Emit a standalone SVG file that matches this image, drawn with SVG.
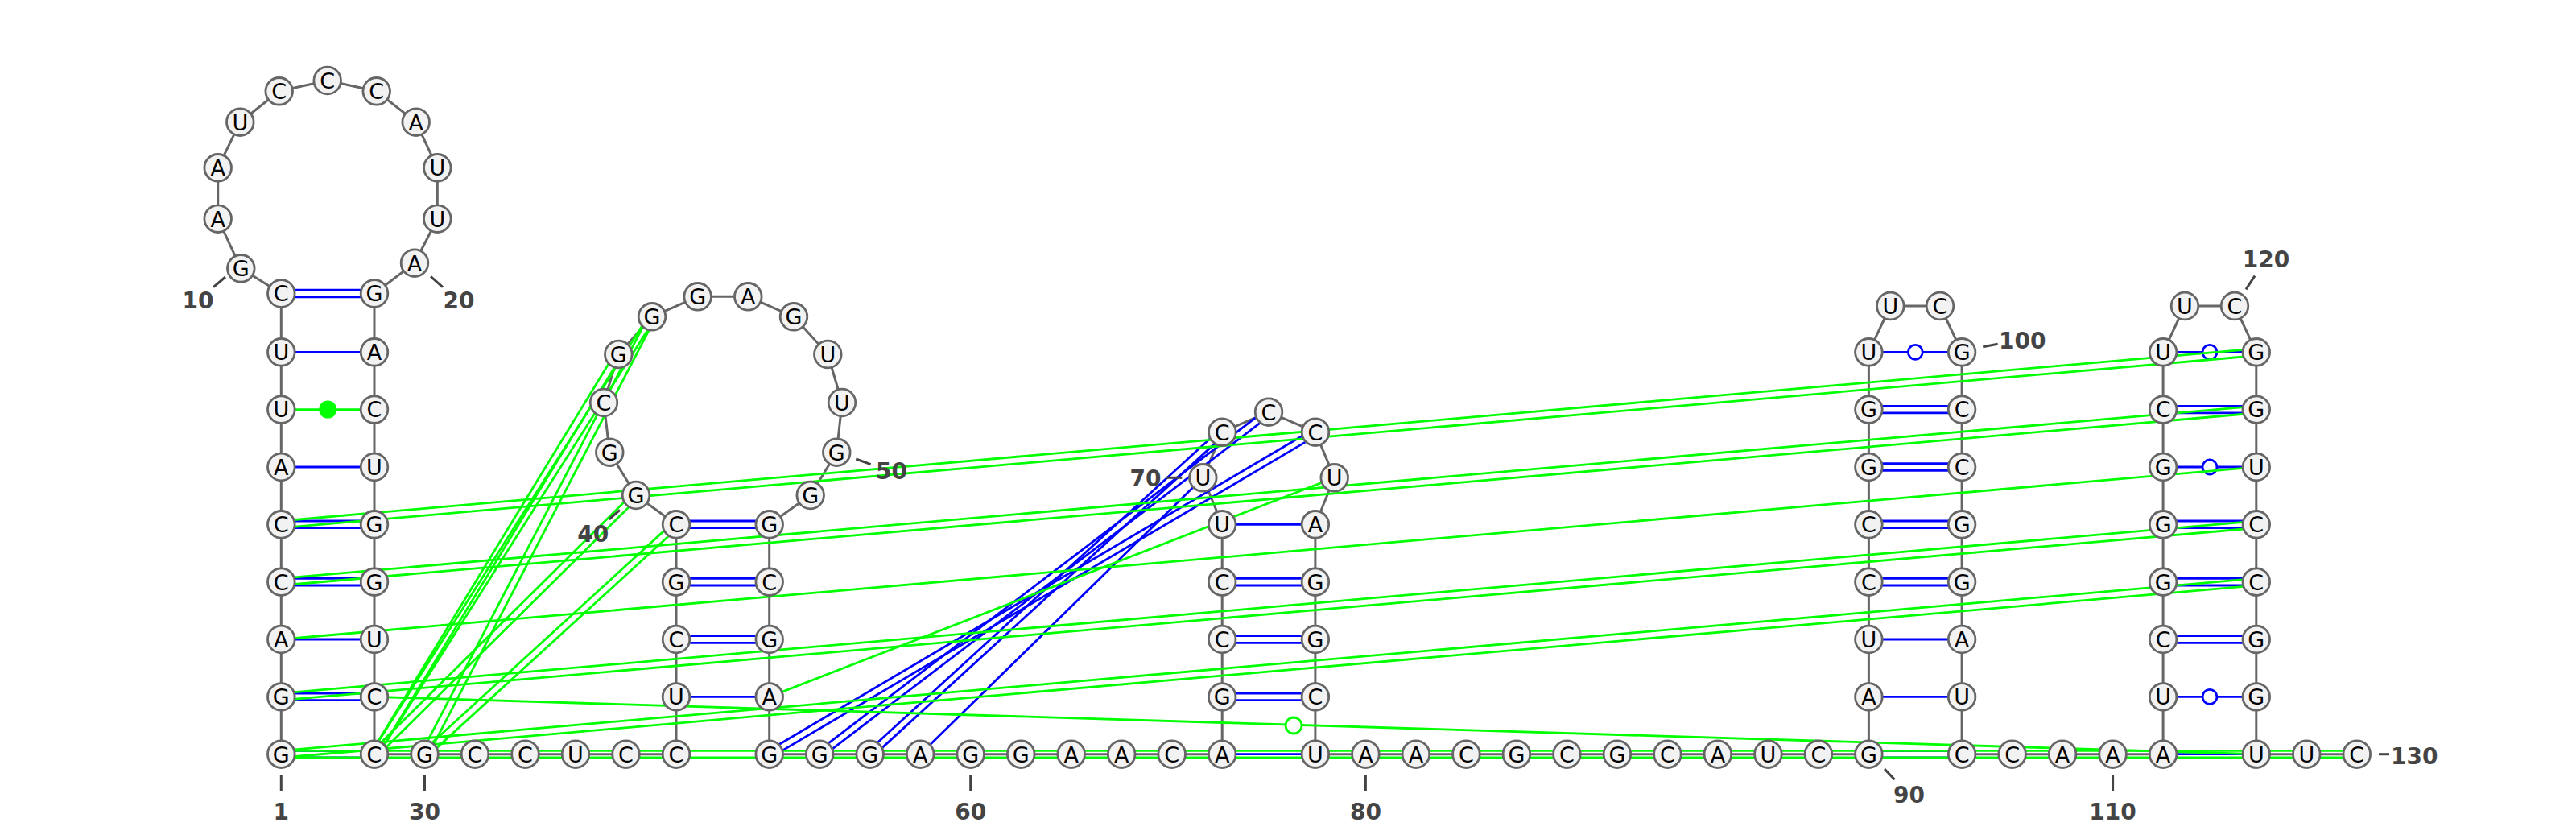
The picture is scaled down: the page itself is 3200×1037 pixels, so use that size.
<svg xmlns="http://www.w3.org/2000/svg" width="3200" height="1037" viewBox="0 0 3200 1037">
<style>
.bb{fill:none;stroke:#666;stroke-width:3;stroke-linejoin:round}
.bp line{stroke:#0000ff;stroke-width:2.8}
.gp line{stroke:#00ff00;stroke-width:2.8}
.nt circle{fill:#f2f2f2;stroke:#666;stroke-width:2.8}
.nt text{font-family:"DejaVu Sans",sans-serif;font-size:27px;text-anchor:middle;fill:#000}
.lbl text{font-family:"DejaVu Sans",sans-serif;font-weight:bold;font-size:28px;fill:#444;text-anchor:middle}
.lbl line{stroke:#444;stroke-width:3}
.wb{fill:#fff;stroke:#0000ff;stroke-width:2.8}
.gw{fill:#fff;stroke:#00ff00;stroke-width:2.8}
.gf{fill:#00ff00}
</style>
<rect width="3200" height="1037" fill="#fff"/>
<g id="connectors">
<polyline class="bb" points="349.3,936.7 349.3,865.4 349.3,794 349.3,722.7 349.3,651.3 349.3,580 349.3,508.6 349.3,437.3 349.3,364.5 299.3,333.3 270.7,271.7 270.7,208.3 298.3,151.7 346.7,113.3 406.7,100 467.7,113.3 516.7,151.7 543.3,208.3 543.3,271.7 515,326.7 465,364.5 465,437.3 465,508.6 465,580 465,651.3 465,722.7 465,794 465,865.4 465,936.7 527.5,936.7 590,936.7 652.5,936.7 715,936.7 777.5,936.7 840,936.7 840,865.4 840,794 840,722.7 840,651.3 790,615 757.3,561.7 750,500 768.3,440 810,393.3 866.7,368.3 929.3,368.3 986,393.3 1028.3,440 1046,500 1039.3,561.7 1006.7,615 955.7,651.3 955.7,722.7 955.7,794 955.7,865.4 955.7,936.7 1018.2,936.7 1080.7,936.7 1143.2,936.7 1205.7,936.7 1268.2,936.7 1330.7,936.7 1393.2,936.7 1455.7,936.7 1518.2,936.7 1518.2,865.4 1518.2,794 1518.2,722.7 1518.2,651.3 1494.3,593.3 1518.3,536.7 1576,511.7 1634,536.7 1657.7,593.3 1633.9,651.3 1633.9,722.7 1633.9,794 1633.9,865.4 1633.9,936.7 1696.4,936.7 1758.9,936.7 1821.4,936.7 1883.9,936.7 1946.4,936.7 2008.9,936.7 2071.4,936.7 2133.9,936.7 2196.4,936.7 2258.9,936.7 2321.4,936.7 2321.4,865.4 2321.4,794 2321.4,722.7 2321.4,651.3 2321.4,580 2321.4,508.6 2321.4,437.3 2348.3,380 2410,380 2437.1,437.3 2437.1,508.6 2437.1,580 2437.1,651.3 2437.1,722.7 2437.1,794 2437.1,865.4 2437.1,936.7 2499.6,936.7 2562.1,936.7 2624.6,936.7 2687.1,936.7 2687.1,865.4 2687.1,794 2687.1,722.7 2687.1,651.3 2687.1,580 2687.1,508.6 2687.1,437.3 2714,380 2776,380 2802.8,437.3 2802.8,508.6 2802.8,580 2802.8,651.3 2802.8,722.7 2802.8,794 2802.8,865.4 2802.8,936.7 2865.3,936.7 2927.8,936.7"/>
<g class="bp">
<line x1="349.3" y1="932.4" x2="465" y2="932.4"/><line x1="349.3" y1="941" x2="465" y2="941"/>
<line x1="349.3" y1="861.1" x2="465" y2="861.1"/><line x1="349.3" y1="869.7" x2="465" y2="869.7"/>
<line x1="349.3" y1="794" x2="465" y2="794"/>
<line x1="349.3" y1="718.4" x2="465" y2="718.4"/><line x1="349.3" y1="727" x2="465" y2="727"/>
<line x1="349.3" y1="647" x2="465" y2="647"/><line x1="349.3" y1="655.6" x2="465" y2="655.6"/>
<line x1="349.3" y1="580" x2="465" y2="580"/>
<line x1="349.3" y1="437.3" x2="465" y2="437.3"/>
<line x1="349.3" y1="360.2" x2="465" y2="360.2"/><line x1="349.3" y1="368.8" x2="465" y2="368.8"/>
<line x1="840" y1="865.4" x2="955.7" y2="865.4"/>
<line x1="840" y1="789.7" x2="955.7" y2="789.7"/><line x1="840" y1="798.3" x2="955.7" y2="798.3"/>
<line x1="840" y1="718.4" x2="955.7" y2="718.4"/><line x1="840" y1="727" x2="955.7" y2="727"/>
<line x1="840" y1="647" x2="955.7" y2="647"/><line x1="840" y1="655.6" x2="955.7" y2="655.6"/>
<line x1="1518.2" y1="936.7" x2="1633.9" y2="936.7"/>
<line x1="1518.2" y1="861.1" x2="1633.9" y2="861.1"/><line x1="1518.2" y1="869.7" x2="1633.9" y2="869.7"/>
<line x1="1518.2" y1="789.7" x2="1633.9" y2="789.7"/><line x1="1518.2" y1="798.3" x2="1633.9" y2="798.3"/>
<line x1="1518.2" y1="718.4" x2="1633.9" y2="718.4"/><line x1="1518.2" y1="727" x2="1633.9" y2="727"/>
<line x1="1518.2" y1="651.3" x2="1633.9" y2="651.3"/>
<line x1="957.9" y1="940.4" x2="1636.2" y2="540.4"/><line x1="953.5" y1="933" x2="1631.8" y2="533"/>
<line x1="1020.8" y1="940.1" x2="1578.6" y2="515.1"/><line x1="1015.6" y1="933.3" x2="1573.4" y2="508.3"/>
<line x1="1083.6" y1="939.9" x2="1521.2" y2="539.9"/><line x1="1077.8" y1="933.5" x2="1515.4" y2="533.5"/>
<line x1="1143.2" y1="936.7" x2="1494.3" y2="593.3"/>
<line x1="2321.4" y1="932.4" x2="2437.1" y2="932.4"/><line x1="2321.4" y1="941" x2="2437.1" y2="941"/>
<line x1="2321.4" y1="865.4" x2="2437.1" y2="865.4"/>
<line x1="2321.4" y1="794" x2="2437.1" y2="794"/>
<line x1="2321.4" y1="718.4" x2="2437.1" y2="718.4"/><line x1="2321.4" y1="727" x2="2437.1" y2="727"/>
<line x1="2321.4" y1="647" x2="2437.1" y2="647"/><line x1="2321.4" y1="655.6" x2="2437.1" y2="655.6"/>
<line x1="2321.4" y1="575.7" x2="2437.1" y2="575.7"/><line x1="2321.4" y1="584.3" x2="2437.1" y2="584.3"/>
<line x1="2321.4" y1="504.3" x2="2437.1" y2="504.3"/><line x1="2321.4" y1="512.9" x2="2437.1" y2="512.9"/>
<line x1="2321.4" y1="437.3" x2="2437.1" y2="437.3"/>
<line x1="2687.1" y1="936.7" x2="2802.8" y2="936.7"/>
<line x1="2687.1" y1="865.4" x2="2802.8" y2="865.4"/>
<line x1="2687.1" y1="789.7" x2="2802.8" y2="789.7"/><line x1="2687.1" y1="798.3" x2="2802.8" y2="798.3"/>
<line x1="2687.1" y1="718.4" x2="2802.8" y2="718.4"/><line x1="2687.1" y1="727" x2="2802.8" y2="727"/>
<line x1="2687.1" y1="647" x2="2802.8" y2="647"/><line x1="2687.1" y1="655.6" x2="2802.8" y2="655.6"/>
<line x1="2687.1" y1="580" x2="2802.8" y2="580"/>
<line x1="2687.1" y1="504.3" x2="2802.8" y2="504.3"/><line x1="2687.1" y1="512.9" x2="2802.8" y2="512.9"/>
<line x1="2687.1" y1="437.3" x2="2802.8" y2="437.3"/>
</g>
<circle class="wb" cx="2379.3" cy="437.3" r="9"/>
<circle class="wb" cx="2745" cy="865.4" r="9"/>
<circle class="wb" cx="2745" cy="580" r="9"/>
<circle class="wb" cx="2745" cy="437.3" r="9"/>
<g class="gp">
<line x1="349.3" y1="932.4" x2="2927.8" y2="932.4"/><line x1="349.3" y1="941" x2="2927.8" y2="941"/>
<line x1="349.7" y1="941" x2="2803.2" y2="727"/><line x1="348.9" y1="932.4" x2="2802.4" y2="718.4"/>
<line x1="349.7" y1="869.7" x2="2803.2" y2="655.6"/><line x1="348.9" y1="861.1" x2="2802.4" y2="647"/>
<line x1="349.3" y1="794" x2="2802.8" y2="580"/>
<line x1="349.7" y1="727" x2="2803.2" y2="512.9"/><line x1="348.9" y1="718.4" x2="2802.4" y2="504.3"/>
<line x1="349.7" y1="655.6" x2="2803.2" y2="441.6"/><line x1="348.9" y1="647" x2="2802.4" y2="433"/>
<line x1="349.3" y1="508.6" x2="465" y2="508.6"/>
<line x1="465" y1="865.4" x2="2802.8" y2="936.7"/>
<line x1="955.7" y1="865.4" x2="1657.7" y2="593.3"/>
<line x1="787" y1="611.9" x2="462" y2="933.6"/><line x1="793" y1="618.1" x2="468" y2="939.8"/>
<line x1="837.1" y1="648.1" x2="524.6" y2="933.5"/><line x1="842.9" y1="654.5" x2="530.4" y2="939.9"/>
<line x1="806.4" y1="391" x2="461.4" y2="934.4"/><line x1="813.6" y1="395.6" x2="468.6" y2="939"/>
<line x1="764.6" y1="437.8" x2="461.3" y2="934.5"/><line x1="772" y1="442.2" x2="468.7" y2="938.9"/>
<line x1="531.3" y1="938.7" x2="813.8" y2="395.3"/><line x1="523.7" y1="934.7" x2="806.2" y2="391.3"/>
</g>
<circle class="gf" cx="407.2" cy="508.6" r="11"/>
<circle class="gw" cx="1607" cy="901" r="10"/>
</g>
<g id="nodes" class="nt">
<g id="n1"><circle cx="349.3" cy="936.7" r="16.8"/><text x="349.3" y="946.5">G</text></g>
<g id="n2"><circle cx="349.3" cy="865.4" r="16.8"/><text x="349.3" y="875.2">G</text></g>
<g id="n3"><circle cx="349.3" cy="794" r="16.8"/><text x="349.3" y="803.8">A</text></g>
<g id="n4"><circle cx="349.3" cy="722.7" r="16.8"/><text x="349.3" y="732.5">C</text></g>
<g id="n5"><circle cx="349.3" cy="651.3" r="16.8"/><text x="349.3" y="661.1">C</text></g>
<g id="n6"><circle cx="349.3" cy="580" r="16.8"/><text x="349.3" y="589.8">A</text></g>
<g id="n7"><circle cx="349.3" cy="508.6" r="16.8"/><text x="349.3" y="518.4">U</text></g>
<g id="n8"><circle cx="349.3" cy="437.3" r="16.8"/><text x="349.3" y="447.1">U</text></g>
<g id="n9"><circle cx="349.3" cy="364.5" r="16.8"/><text x="349.3" y="374.3">C</text></g>
<g id="n10"><circle cx="299.3" cy="333.3" r="16.8"/><text x="299.3" y="343.1">G</text></g>
<g id="n11"><circle cx="270.7" cy="271.7" r="16.8"/><text x="270.7" y="281.5">A</text></g>
<g id="n12"><circle cx="270.7" cy="208.3" r="16.8"/><text x="270.7" y="218.1">A</text></g>
<g id="n13"><circle cx="298.3" cy="151.7" r="16.8"/><text x="298.3" y="161.5">U</text></g>
<g id="n14"><circle cx="346.7" cy="113.3" r="16.8"/><text x="346.7" y="123.1">C</text></g>
<g id="n15"><circle cx="406.7" cy="100" r="16.8"/><text x="406.7" y="109.8">C</text></g>
<g id="n16"><circle cx="467.7" cy="113.3" r="16.8"/><text x="467.7" y="123.1">C</text></g>
<g id="n17"><circle cx="516.7" cy="151.7" r="16.8"/><text x="516.7" y="161.5">A</text></g>
<g id="n18"><circle cx="543.3" cy="208.3" r="16.8"/><text x="543.3" y="218.1">U</text></g>
<g id="n19"><circle cx="543.3" cy="271.7" r="16.8"/><text x="543.3" y="281.5">U</text></g>
<g id="n20"><circle cx="515" cy="326.7" r="16.8"/><text x="515" y="336.5">A</text></g>
<g id="n21"><circle cx="465" cy="364.5" r="16.8"/><text x="465" y="374.3">G</text></g>
<g id="n22"><circle cx="465" cy="437.3" r="16.8"/><text x="465" y="447.1">A</text></g>
<g id="n23"><circle cx="465" cy="508.6" r="16.8"/><text x="465" y="518.4">C</text></g>
<g id="n24"><circle cx="465" cy="580" r="16.8"/><text x="465" y="589.8">U</text></g>
<g id="n25"><circle cx="465" cy="651.3" r="16.8"/><text x="465" y="661.1">G</text></g>
<g id="n26"><circle cx="465" cy="722.7" r="16.8"/><text x="465" y="732.5">G</text></g>
<g id="n27"><circle cx="465" cy="794" r="16.8"/><text x="465" y="803.8">U</text></g>
<g id="n28"><circle cx="465" cy="865.4" r="16.8"/><text x="465" y="875.2">C</text></g>
<g id="n29"><circle cx="465" cy="936.7" r="16.8"/><text x="465" y="946.5">C</text></g>
<g id="n30"><circle cx="527.5" cy="936.7" r="16.8"/><text x="527.5" y="946.5">G</text></g>
<g id="n31"><circle cx="590" cy="936.7" r="16.8"/><text x="590" y="946.5">C</text></g>
<g id="n32"><circle cx="652.5" cy="936.7" r="16.8"/><text x="652.5" y="946.5">C</text></g>
<g id="n33"><circle cx="715" cy="936.7" r="16.8"/><text x="715" y="946.5">U</text></g>
<g id="n34"><circle cx="777.5" cy="936.7" r="16.8"/><text x="777.5" y="946.5">C</text></g>
<g id="n35"><circle cx="840" cy="936.7" r="16.8"/><text x="840" y="946.5">C</text></g>
<g id="n36"><circle cx="840" cy="865.4" r="16.8"/><text x="840" y="875.2">U</text></g>
<g id="n37"><circle cx="840" cy="794" r="16.8"/><text x="840" y="803.8">C</text></g>
<g id="n38"><circle cx="840" cy="722.7" r="16.8"/><text x="840" y="732.5">G</text></g>
<g id="n39"><circle cx="840" cy="651.3" r="16.8"/><text x="840" y="661.1">C</text></g>
<g id="n40"><circle cx="790" cy="615" r="16.8"/><text x="790" y="624.8">G</text></g>
<g id="n41"><circle cx="757.3" cy="561.7" r="16.8"/><text x="757.3" y="571.5">G</text></g>
<g id="n42"><circle cx="750" cy="500" r="16.8"/><text x="750" y="509.8">C</text></g>
<g id="n43"><circle cx="768.3" cy="440" r="16.8"/><text x="768.3" y="449.8">G</text></g>
<g id="n44"><circle cx="810" cy="393.3" r="16.8"/><text x="810" y="403.1">G</text></g>
<g id="n45"><circle cx="866.7" cy="368.3" r="16.8"/><text x="866.7" y="378.1">G</text></g>
<g id="n46"><circle cx="929.3" cy="368.3" r="16.8"/><text x="929.3" y="378.1">A</text></g>
<g id="n47"><circle cx="986" cy="393.3" r="16.8"/><text x="986" y="403.1">G</text></g>
<g id="n48"><circle cx="1028.3" cy="440" r="16.8"/><text x="1028.3" y="449.8">U</text></g>
<g id="n49"><circle cx="1046" cy="500" r="16.8"/><text x="1046" y="509.8">U</text></g>
<g id="n50"><circle cx="1039.3" cy="561.7" r="16.8"/><text x="1039.3" y="571.5">G</text></g>
<g id="n51"><circle cx="1006.7" cy="615" r="16.8"/><text x="1006.7" y="624.8">G</text></g>
<g id="n52"><circle cx="955.7" cy="651.3" r="16.8"/><text x="955.7" y="661.1">G</text></g>
<g id="n53"><circle cx="955.7" cy="722.7" r="16.8"/><text x="955.7" y="732.5">C</text></g>
<g id="n54"><circle cx="955.7" cy="794" r="16.8"/><text x="955.7" y="803.8">G</text></g>
<g id="n55"><circle cx="955.7" cy="865.4" r="16.8"/><text x="955.7" y="875.2">A</text></g>
<g id="n56"><circle cx="955.7" cy="936.7" r="16.8"/><text x="955.7" y="946.5">G</text></g>
<g id="n57"><circle cx="1018.2" cy="936.7" r="16.8"/><text x="1018.2" y="946.5">G</text></g>
<g id="n58"><circle cx="1080.7" cy="936.7" r="16.8"/><text x="1080.7" y="946.5">G</text></g>
<g id="n59"><circle cx="1143.2" cy="936.7" r="16.8"/><text x="1143.2" y="946.5">A</text></g>
<g id="n60"><circle cx="1205.7" cy="936.7" r="16.8"/><text x="1205.7" y="946.5">G</text></g>
<g id="n61"><circle cx="1268.2" cy="936.7" r="16.8"/><text x="1268.2" y="946.5">G</text></g>
<g id="n62"><circle cx="1330.7" cy="936.7" r="16.8"/><text x="1330.7" y="946.5">A</text></g>
<g id="n63"><circle cx="1393.2" cy="936.7" r="16.8"/><text x="1393.2" y="946.5">A</text></g>
<g id="n64"><circle cx="1455.7" cy="936.7" r="16.8"/><text x="1455.7" y="946.5">C</text></g>
<g id="n65"><circle cx="1518.2" cy="936.7" r="16.8"/><text x="1518.2" y="946.5">A</text></g>
<g id="n66"><circle cx="1518.2" cy="865.4" r="16.8"/><text x="1518.2" y="875.2">G</text></g>
<g id="n67"><circle cx="1518.2" cy="794" r="16.8"/><text x="1518.2" y="803.8">C</text></g>
<g id="n68"><circle cx="1518.2" cy="722.7" r="16.8"/><text x="1518.2" y="732.5">C</text></g>
<g id="n69"><circle cx="1518.2" cy="651.3" r="16.8"/><text x="1518.2" y="661.1">U</text></g>
<g id="n70"><circle cx="1494.3" cy="593.3" r="16.8"/><text x="1494.3" y="603.1">U</text></g>
<g id="n71"><circle cx="1518.3" cy="536.7" r="16.8"/><text x="1518.3" y="546.5">C</text></g>
<g id="n72"><circle cx="1576" cy="511.7" r="16.8"/><text x="1576" y="521.5">C</text></g>
<g id="n73"><circle cx="1634" cy="536.7" r="16.8"/><text x="1634" y="546.5">C</text></g>
<g id="n74"><circle cx="1657.7" cy="593.3" r="16.8"/><text x="1657.7" y="603.1">U</text></g>
<g id="n75"><circle cx="1633.9" cy="651.3" r="16.8"/><text x="1633.9" y="661.1">A</text></g>
<g id="n76"><circle cx="1633.9" cy="722.7" r="16.8"/><text x="1633.9" y="732.5">G</text></g>
<g id="n77"><circle cx="1633.9" cy="794" r="16.8"/><text x="1633.9" y="803.8">G</text></g>
<g id="n78"><circle cx="1633.9" cy="865.4" r="16.8"/><text x="1633.9" y="875.2">C</text></g>
<g id="n79"><circle cx="1633.9" cy="936.7" r="16.8"/><text x="1633.9" y="946.5">U</text></g>
<g id="n80"><circle cx="1696.4" cy="936.7" r="16.8"/><text x="1696.4" y="946.5">A</text></g>
<g id="n81"><circle cx="1758.9" cy="936.7" r="16.8"/><text x="1758.9" y="946.5">A</text></g>
<g id="n82"><circle cx="1821.4" cy="936.7" r="16.8"/><text x="1821.4" y="946.5">C</text></g>
<g id="n83"><circle cx="1883.9" cy="936.7" r="16.8"/><text x="1883.9" y="946.5">G</text></g>
<g id="n84"><circle cx="1946.4" cy="936.7" r="16.8"/><text x="1946.4" y="946.5">C</text></g>
<g id="n85"><circle cx="2008.9" cy="936.7" r="16.8"/><text x="2008.9" y="946.5">G</text></g>
<g id="n86"><circle cx="2071.4" cy="936.7" r="16.8"/><text x="2071.4" y="946.5">C</text></g>
<g id="n87"><circle cx="2133.9" cy="936.7" r="16.8"/><text x="2133.9" y="946.5">A</text></g>
<g id="n88"><circle cx="2196.4" cy="936.7" r="16.8"/><text x="2196.4" y="946.5">U</text></g>
<g id="n89"><circle cx="2258.9" cy="936.7" r="16.8"/><text x="2258.9" y="946.5">C</text></g>
<g id="n90"><circle cx="2321.4" cy="936.7" r="16.8"/><text x="2321.4" y="946.5">G</text></g>
<g id="n91"><circle cx="2321.4" cy="865.4" r="16.8"/><text x="2321.4" y="875.2">A</text></g>
<g id="n92"><circle cx="2321.4" cy="794" r="16.8"/><text x="2321.4" y="803.8">U</text></g>
<g id="n93"><circle cx="2321.4" cy="722.7" r="16.8"/><text x="2321.4" y="732.5">C</text></g>
<g id="n94"><circle cx="2321.4" cy="651.3" r="16.8"/><text x="2321.4" y="661.1">C</text></g>
<g id="n95"><circle cx="2321.4" cy="580" r="16.8"/><text x="2321.4" y="589.8">G</text></g>
<g id="n96"><circle cx="2321.4" cy="508.6" r="16.8"/><text x="2321.4" y="518.4">G</text></g>
<g id="n97"><circle cx="2321.4" cy="437.3" r="16.8"/><text x="2321.4" y="447.1">U</text></g>
<g id="n98"><circle cx="2348.3" cy="380" r="16.8"/><text x="2348.3" y="389.8">U</text></g>
<g id="n99"><circle cx="2410" cy="380" r="16.8"/><text x="2410" y="389.8">C</text></g>
<g id="n100"><circle cx="2437.1" cy="437.3" r="16.8"/><text x="2437.1" y="447.1">G</text></g>
<g id="n101"><circle cx="2437.1" cy="508.6" r="16.8"/><text x="2437.1" y="518.4">C</text></g>
<g id="n102"><circle cx="2437.1" cy="580" r="16.8"/><text x="2437.1" y="589.8">C</text></g>
<g id="n103"><circle cx="2437.1" cy="651.3" r="16.8"/><text x="2437.1" y="661.1">G</text></g>
<g id="n104"><circle cx="2437.1" cy="722.7" r="16.8"/><text x="2437.1" y="732.5">G</text></g>
<g id="n105"><circle cx="2437.1" cy="794" r="16.8"/><text x="2437.1" y="803.8">A</text></g>
<g id="n106"><circle cx="2437.1" cy="865.4" r="16.8"/><text x="2437.1" y="875.2">U</text></g>
<g id="n107"><circle cx="2437.1" cy="936.7" r="16.8"/><text x="2437.1" y="946.5">C</text></g>
<g id="n108"><circle cx="2499.6" cy="936.7" r="16.8"/><text x="2499.6" y="946.5">C</text></g>
<g id="n109"><circle cx="2562.1" cy="936.7" r="16.8"/><text x="2562.1" y="946.5">A</text></g>
<g id="n110"><circle cx="2624.6" cy="936.7" r="16.8"/><text x="2624.6" y="946.5">A</text></g>
<g id="n111"><circle cx="2687.1" cy="936.7" r="16.8"/><text x="2687.1" y="946.5">A</text></g>
<g id="n112"><circle cx="2687.1" cy="865.4" r="16.8"/><text x="2687.1" y="875.2">U</text></g>
<g id="n113"><circle cx="2687.1" cy="794" r="16.8"/><text x="2687.1" y="803.8">C</text></g>
<g id="n114"><circle cx="2687.1" cy="722.7" r="16.8"/><text x="2687.1" y="732.5">G</text></g>
<g id="n115"><circle cx="2687.1" cy="651.3" r="16.8"/><text x="2687.1" y="661.1">G</text></g>
<g id="n116"><circle cx="2687.1" cy="580" r="16.8"/><text x="2687.1" y="589.8">G</text></g>
<g id="n117"><circle cx="2687.1" cy="508.6" r="16.8"/><text x="2687.1" y="518.4">C</text></g>
<g id="n118"><circle cx="2687.1" cy="437.3" r="16.8"/><text x="2687.1" y="447.1">U</text></g>
<g id="n119"><circle cx="2714" cy="380" r="16.8"/><text x="2714" y="389.8">U</text></g>
<g id="n120"><circle cx="2776" cy="380" r="16.8"/><text x="2776" y="389.8">C</text></g>
<g id="n121"><circle cx="2802.8" cy="437.3" r="16.8"/><text x="2802.8" y="447.1">G</text></g>
<g id="n122"><circle cx="2802.8" cy="508.6" r="16.8"/><text x="2802.8" y="518.4">G</text></g>
<g id="n123"><circle cx="2802.8" cy="580" r="16.8"/><text x="2802.8" y="589.8">U</text></g>
<g id="n124"><circle cx="2802.8" cy="651.3" r="16.8"/><text x="2802.8" y="661.1">C</text></g>
<g id="n125"><circle cx="2802.8" cy="722.7" r="16.8"/><text x="2802.8" y="732.5">C</text></g>
<g id="n126"><circle cx="2802.8" cy="794" r="16.8"/><text x="2802.8" y="803.8">G</text></g>
<g id="n127"><circle cx="2802.8" cy="865.4" r="16.8"/><text x="2802.8" y="875.2">G</text></g>
<g id="n128"><circle cx="2802.8" cy="936.7" r="16.8"/><text x="2802.8" y="946.5">U</text></g>
<g id="n129"><circle cx="2865.3" cy="936.7" r="16.8"/><text x="2865.3" y="946.5">U</text></g>
<g id="n130"><circle cx="2927.8" cy="936.7" r="16.8"/><text x="2927.8" y="946.5">C</text></g>
</g>
<g id="labels" class="lbl">
<line x1="349.3" y1="963" x2="349.3" y2="982"/><text x="349.3" y="1018">1</text>
<line x1="265" y1="356.7" x2="280" y2="344"/><text x="246" y="383">10</text>
<line x1="535" y1="343.3" x2="550" y2="356.7"/><text x="570" y="383">20</text>
<line x1="527.5" y1="963" x2="527.5" y2="982"/><text x="527.5" y="1018">30</text>
<line x1="756.7" y1="645" x2="770" y2="633.3"/><text x="736.7" y="673">40</text>
<line x1="1063.3" y1="570" x2="1081.7" y2="576.7"/><text x="1107.5" y="595">50</text>
<line x1="1205.7" y1="963" x2="1205.7" y2="982"/><text x="1205.7" y="1018">60</text>
<line x1="1448.3" y1="593.3" x2="1468.3" y2="593.3"/><text x="1423" y="604">70</text>
<line x1="1696.4" y1="963" x2="1696.4" y2="982"/><text x="1696.4" y="1018">80</text>
<line x1="2341" y1="955" x2="2353.6" y2="968.3"/><text x="2371.4" y="996.7">90</text>
<line x1="2463.3" y1="430.7" x2="2481.7" y2="427.3"/><text x="2483" y="433" style="text-anchor:start">100</text>
<line x1="2624.6" y1="963" x2="2624.6" y2="982"/><text x="2624.6" y="1018">110</text>
<line x1="2790" y1="359.3" x2="2801" y2="342.7"/><text x="2815" y="331.7">120</text>
<line x1="2955" y1="936.7" x2="2968" y2="936.7"/><text x="2970" y="948.5" style="text-anchor:start">130</text>
</g>
</svg>
